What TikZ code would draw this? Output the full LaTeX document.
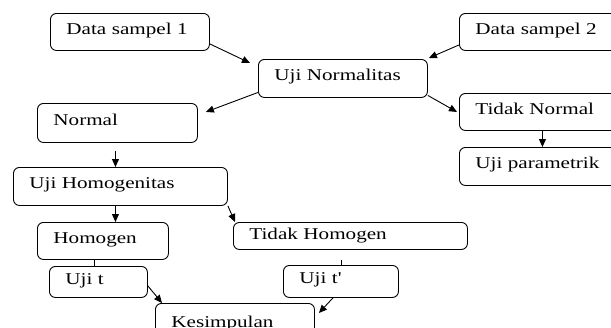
\documentclass[tikz,border=0pt]{standalone}
\usepackage{fontspec}
\setmainfont{Liberation Serif}[FakeStretch=1.28]
\usepackage{tikz}
\usetikzlibrary{arrows.meta}
\usetikzlibrary{calc}
\tikzset{box/.style={draw, rounded corners=6pt, anchor=north west, align=left, inner xsep=16pt, inner ysep=3pt, text width=#1, text height=0.7em, text depth=0.25em}}
\tikzset{arr/.style={-{Triangle[length=8pt,width=7pt]}}}

\begin{document}
\begin{tikzpicture}[x=1pt,y=-1pt,line width=0.9pt,font=\fontsize{16.5}{19}\selectfont]
\useasboundingbox (0,0) rectangle (611,327);
\node[box=127pt, minimum height=37pt] (ds1) at (50,13) {Data sampel 1};
\node[box=137pt, minimum height=38pt] (un) at (258,59) {Uji Normalitas};
\node[box=134pt, minimum height=37pt] (ds2) at (459,13) {Data sampel 2};
\node[box=128pt, minimum height=39pt] (nrm) at (37,103) {Normal};
\node[box=134pt, minimum height=37pt] (tn) at (459,93) {Tidak Normal};
\node[box=134pt, minimum height=38pt] (up) at (459,147) {Uji parametrik};
\node[box=182pt, minimum height=38pt] (uh) at (13,167) {Uji Homogenitas};
\node[box=99pt, minimum height=37pt] (hom) at (37,222) {Homogen};
\node[box=202pt, minimum height=27pt, text height=0.95em] (th) at (233,222) {Tidak Homogen};
\node[box=66pt, minimum height=31pt] (ut) at (49,266) {Uji t};
\node[box=83pt, minimum height=32pt] (ut2) at (283,265) {Uji t\textquotesingle};
\node[box=127pt, minimum height=43pt] (kes) at (155,303) {Kesimpulan};
% arrows
\draw[arr] ([yshift=-12pt]ds1.east) -- ([xshift=-8pt,yshift=-4pt]un.north west);
\draw[arr] ([yshift=-13pt]ds2.west) -- ([xshift=1pt,yshift=1pt]un.north east);
\draw[arr] ([yshift=-14pt]un.west) -- ([xshift=8pt,yshift=11pt]nrm.east);
\draw[arr] ([yshift=-17pt]un.east) -- ([xshift=-2pt]tn.west);
\draw[arr] (tn) -- (up);
\draw[arr, shorten <=8pt] ([xshift=-2pt]nrm.south) -- ([xshift=-2pt]nrm.south |- uh.north);
\draw[arr] ([xshift=-5pt]uh.south) -- ([xshift=-5pt]uh.south |- hom.north);
\draw[arr] (uh.south east) -- ([xshift=2pt]th.north west);
\draw ([xshift=-4pt]ut.north) -- ([xshift=-4pt]ut.north |- hom.south);
\draw[shorten <=10pt] (th.south -| ut2.north) -- (ut2.north);
\draw[arr] ([yshift=-4pt]ut.east) -- ([xshift=7pt]kes.north west);
\draw[arr] ([xshift=-8pt]ut2.south) -- ([xshift=4pt,yshift=-10pt]kes.north east);
\end{tikzpicture}
\end{document}
